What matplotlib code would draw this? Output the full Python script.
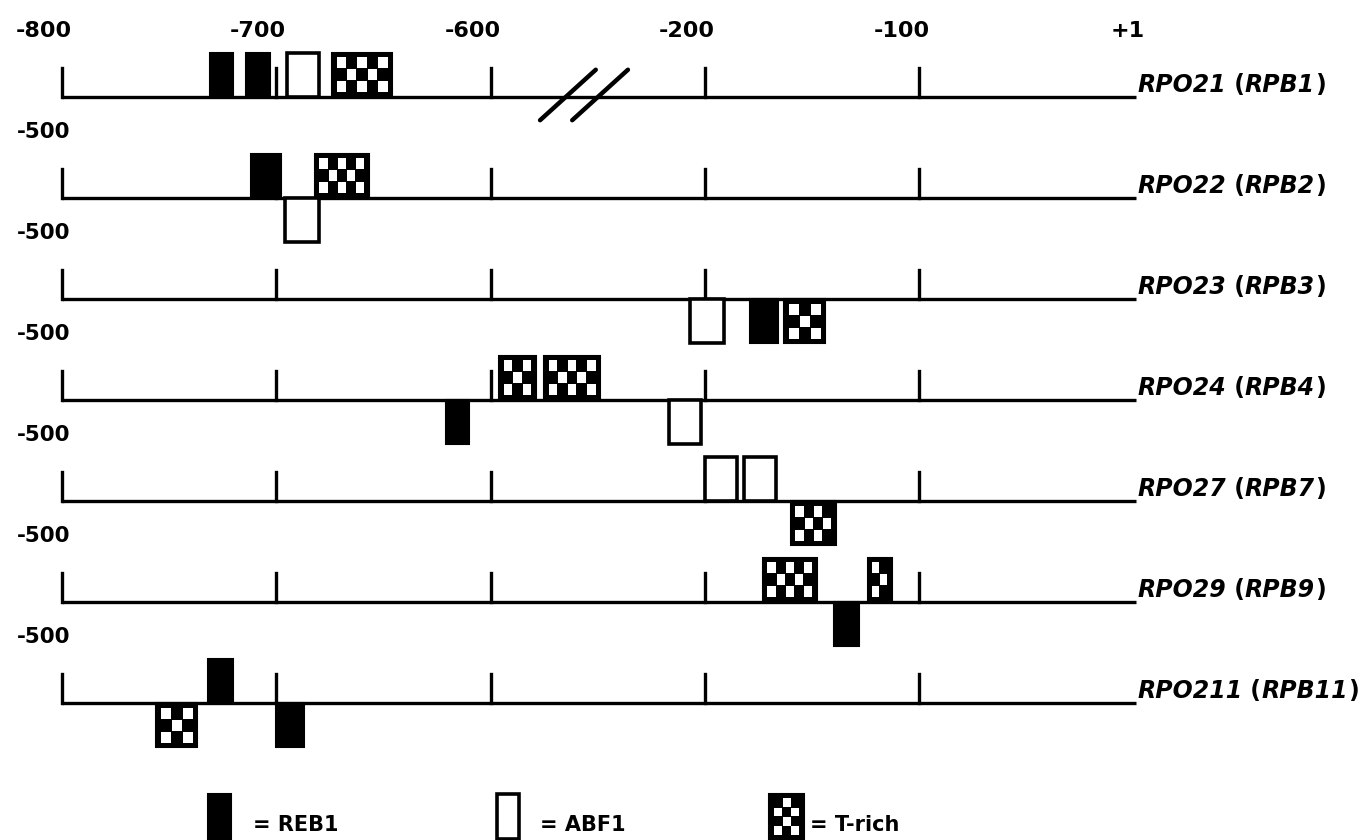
import matplotlib
matplotlib.use("Agg")
import matplotlib.pyplot as plt
from matplotlib.patches import Rectangle

# ---------------- data ----------------
genes = ["RPO21", "RPO22", "RPO23", "RPO24", "RPO27", "RPO29", "RPO211"]
proteins = ["RPB1", "RPB2", "RPB3", "RPB4", "RPB7", "RPB9", "RPB11"]
row_starts = [-800, -500, -500, -500, -500, -500, -500]

top_tick_labels = ["-800", "-700", "-600", "-200", "-100", "+1"]
top_tick_pos = [-800, -700, -600, -200, -100, 1]          # bp in the RPO21 row
row_tick_pos = [-500, -400, -300, -200, -100]             # bp in the -500 rows

# elements: (row, type, start_bp, end_bp, side) ; side +1 above line, -1 below
elem_row = [0, 0, 0, 0,
            1, 1, 1,
            2, 2, 2,
            3, 3, 3, 3,
            4, 4, 4,
            5, 5, 5,
            6, 6, 6]
elem_type = ["REB1", "REB1", "ABF1", "T-rich",
             "REB1", "T-rich", "ABF1",
             "ABF1", "REB1", "T-rich",
             "T-rich", "T-rich", "REB1", "ABF1",
             "ABF1", "ABF1", "T-rich",
             "T-rich", "T-rich", "REB1",
             "REB1", "T-rich", "REB1"]
elem_start = [-731, -714, -695, -674,
              -412, -382, -396,
              -207, -179, -163,
              -296, -275, -321, -217,
              -200, -182, -160,
              -173, -124, -140,
              -432, -456, -400]
elem_end = [-720, -703, -680, -646,
            -398, -357, -380,
            -191, -166, -144,
            -279, -249, -310, -202,
            -185, -167, -139,
            -148, -113, -128,
            -420, -437, -387]
elem_side = [1, 1, 1, 1,
             1, 1, -1,
             -1, -1, -1,
             1, 1, -1, -1,
             1, 1, -1,
             1, 1, -1,
             1, -1, -1]

legend_types = ["REB1", "ABF1", "T-rich"]
legend_labels = ["= REB1", "= ABF1", "= T-rich"]

# ---------------- layout ----------------
W, H, DPI = 1371, 840, 100
fig = plt.figure(figsize=(W / DPI, H / DPI), dpi=DPI)
ax = fig.add_axes([0, 0, 1, 1])
PX = 1074 / 501.0          # pixels per display unit (bp)
x_left = -500 - 62 / PX
x_right = 1 + (W - 1136) / PX
ax.set_xlim(x_left, x_right)
ax.set_ylim(-(H - 97) / 101.0, 97 / 101.0)
ax.axis("off")

LW = 2.4
BOX_H = 0.44
TICK_H = 0.29
FONT = "DejaVu Sans"
NUM_FS = 16
LAB_FS = 17


def disp(row, bp):
    """map a row's bp to the shared display coordinate"""
    if row_starts[row] == -800 and bp <= -300:
        return bp + 300
    return bp


def draw_box(kind, x0, x1, y0, y1):
    if kind == "REB1":
        ax.add_patch(Rectangle((x0, y0), x1 - x0, y1 - y0, facecolor="black",
                               edgecolor="black", lw=1.5, zorder=3))
    elif kind == "ABF1":
        ax.add_patch(Rectangle((x0, y0), x1 - x0, y1 - y0, facecolor="white",
                               edgecolor="black", lw=2.6, zorder=3))
    else:
        ax.add_patch(Rectangle((x0, y0), x1 - x0, y1 - y0, facecolor="black",
                               edgecolor="black", lw=1.5, zorder=3))
        cw, ch = 10.0 / PX, 10.5 / 101.0
        m_x, m_y = 4.0 / PX, 4.0 / 101.0
        nx = max(2, int(round((x1 - x0 - 2 * m_x) / cw)))
        ny = max(2, int(round((y1 - y0 - 2 * m_y) / ch)))
        cw = (x1 - x0 - 2 * m_x) / nx
        ch = (y1 - y0 - 2 * m_y) / ny
        for i in range(nx):
            for j in range(ny):
                if (i + j) % 2 == 0:
                    ax.add_patch(Rectangle((x0 + m_x + i * cw + 0.05 * cw,
                                            y0 + m_y + j * ch + 0.05 * ch),
                                           cw * 0.9, ch * 0.9,
                                           facecolor="white", edgecolor="none",
                                           zorder=4))


# rows
for r in range(len(genes)):
    yb = -r
    ax.plot([-500, 1], [yb, yb], color="black", lw=LW, solid_capstyle="butt", zorder=2)
    ticks = [disp(r, t) for t in (top_tick_pos[:-1] if r == 0 else row_tick_pos)]
    for t in ticks:
        ax.plot([t, t], [yb, yb + TICK_H], color="black", lw=LW, zorder=2)
    # gene label
    t1 = ax.text(1.5, yb + 0.045, genes[r], fontsize=LAB_FS, fontweight="bold",
                 fontstyle="italic", family=FONT, ha="left", va="baseline")
    t2 = ax.annotate(" (", xy=(1, 0), xycoords=t1, fontsize=LAB_FS,
                     fontweight="bold", family=FONT, ha="left", va="bottom")
    t3 = ax.annotate(proteins[r], xy=(1, 0), xycoords=t2, fontsize=LAB_FS,
                     fontweight="bold", fontstyle="italic", family=FONT,
                     ha="left", va="bottom")
    ax.annotate(")", xy=(1, 0), xycoords=t3, fontsize=LAB_FS, fontweight="bold",
                family=FONT, ha="left", va="bottom")
    if r > 0:
        ax.text(-500 - 45 / PX, yb + 1 - 0.35, "-500", fontsize=NUM_FS - 0.5,
                fontweight="bold", family=FONT, ha="left", va="center")

# top tick labels
for lab, pos in zip(top_tick_labels, top_tick_pos):
    x = disp(0, pos)
    if lab == "+1":
        ax.text(x - 8 / PX, 0.65, lab, fontsize=NUM_FS, fontweight="bold",
                family=FONT, ha="center", va="center")
    else:
        ax.text(x + 10 / PX, 0.65, lab, fontsize=NUM_FS, fontweight="bold",
                family=FONT, ha="right", va="center")

# break marks
for dx in (0, 15):
    ax.plot([-277 + dx, -251 + dx], [-0.23, 0.27], color="black", lw=3.2,
            solid_capstyle="round", zorder=5)

# elements
for r, k, s, e, side in zip(elem_row, elem_type, elem_start, elem_end, elem_side):
    x0, x1 = disp(r, s), disp(r, e)
    yb = -r
    if side > 0:
        draw_box(k, x0, x1, yb, yb + BOX_H)
    else:
        draw_box(k, x0, x1, yb - BOX_H, yb)

# legend
leg_x = [-432, -297, -170]
leg_w = [11, 10, 16]
leg_txt_x = [-411, -277, -151]
for kx, kw, tx, k, lab in zip(leg_x, leg_w, leg_txt_x, legend_types, legend_labels):
    draw_box(k, kx, kx + kw, -7.35, -6.90)
    ax.text(tx, -7.21, lab, fontsize=15, fontweight="bold", family=FONT,
            ha="left", va="center")

fig.savefig("out.png", dpi=DPI)
